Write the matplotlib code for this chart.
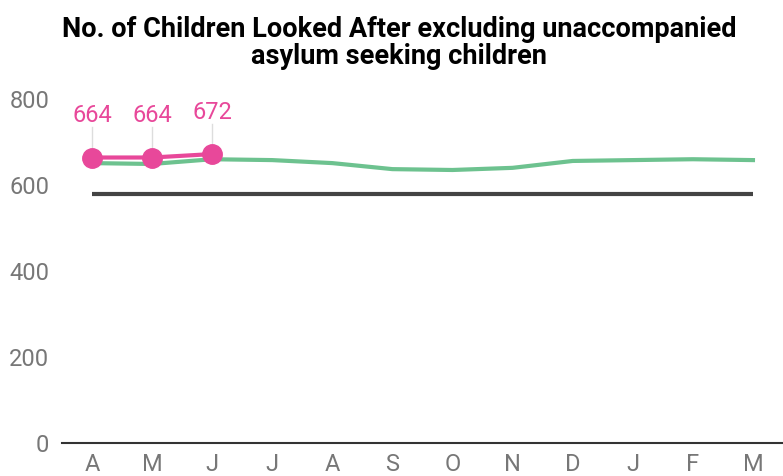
import numpy as np
import matplotlib.pyplot as plt

plt.rcParams['font.family'] = ['Roboto', 'DejaVu Sans']

# data
months = ['A', 'M', 'J', 'J', 'A', 'S', 'O', 'N', 'D', 'J', 'F', 'M']
actual = [664, 664, 672]
last_year = [651, 649, 660, 658, 651, 637, 635, 640, 656, 658, 660, 658]
target = [580] * 12

x = np.arange(len(months))

fig = plt.figure(figsize=(7.83, 4.76), dpi=100)
ax = fig.add_axes([0.079, 0.069, 0.921, 0.723])

ax.plot(x, target, color='#444444', linewidth=3, solid_capstyle='butt', zorder=2)
ax.plot(x, last_year, color='#6dc28f', linewidth=3, zorder=3)
ax.plot(x[:len(actual)], actual, color='#e8489a', linewidth=3, zorder=4,
        marker='o', markersize=14)

for xi, v in zip(x[:len(actual)], actual):
    ax.plot([xi, xi], [v + 20, v + 70], color='#dddddd', linewidth=1, zorder=1)
    ax.text(xi, v + 70, str(v), color='#e8489a', fontsize=17,
            ha='center', va='bottom')

ax.set_xlim(-0.5, 11.5)
ax.set_ylim(0, 800)
ax.set_xticks(x)
ax.set_xticklabels(months)
ax.set_yticks([0, 200, 400, 600, 800])

for s in ['top', 'right', 'left']:
    ax.spines[s].set_visible(False)
ax.spines['bottom'].set_color('#333333')
ax.spines['bottom'].set_linewidth(1.5)
ax.tick_params(axis='both', length=0, labelsize=17, labelcolor='#777777')
ax.tick_params(axis='x', pad=7)
ax.tick_params(axis='y', pad=9)

fig.suptitle('No. of Children Looked After excluding unaccompanied\nasylum seeking children',
             x=0.51, y=0.967, fontsize=19.5, fontweight='bold', linespacing=1.0)

fig.savefig('out.png', dpi=100)
